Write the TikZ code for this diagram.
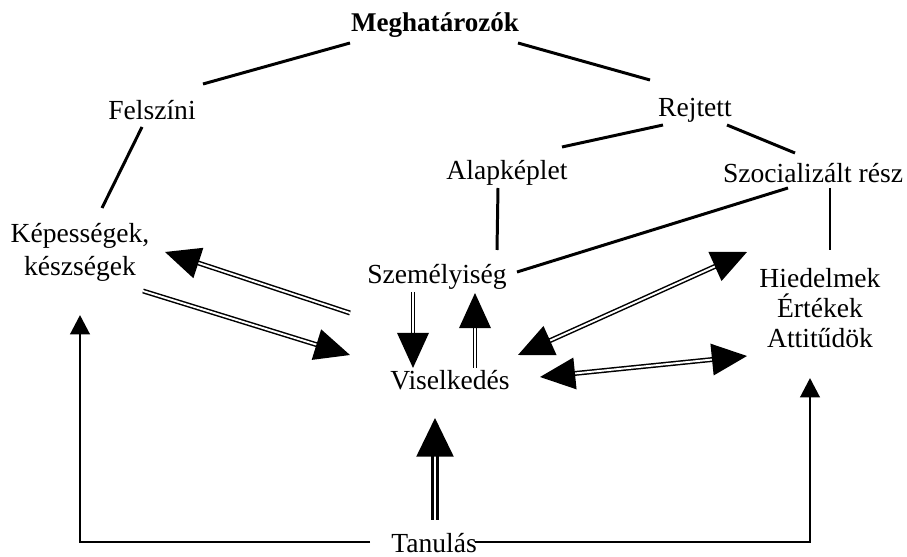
\documentclass[tikz,border=0pt]{standalone}
\usepackage{fontspec}
\setmainfont{Liberation Serif}
\usetikzlibrary{arrows.meta, positioning}

\begin{document}
\begin{tikzpicture}[x=0.02cm, y=-0.02cm,
                term/.style={inner sep=0pt, align=center, font=\fontsize{15.7}{17.3}\selectfont},
                tie/.style={line width=1.7pt},
                flow/.style={double, line width=0.85pt, double distance=1.1pt,
                             -{Triangle[length=20pt, width=18pt]}},
                twoway/.style={flow, {Triangle[length=20pt, width=18pt]}-{Triangle[length=20pt, width=18pt]}},
                feed/.style={double, line width=1.5pt, double distance=1.1pt,
                             -{Triangle[length=22pt, width=21pt]}},
                learn/.style={line width=1.7pt, -{Triangle[length=11pt, width=11pt]}}]

                \useasboundingbox (0,0) rectangle (907,557);

                % Determinants - top tree
                \node[term, font=\fontsize{15.4}{17}\selectfont\bfseries] (megh) at (435,25) {Meghatározók};
                \node[term] (felszini) at (152,110) {Felszíni};
                \node[term] (rejtett) at (695,110) {Rejtett};
                \node[term] (alap) at (507,173) {Alapképlet};
                \node[term] (szoc) at (813,173) {Szocializált rész};

                % Middle row
                \node[term] (kepes) at (80,252) {Képességek,\\[1.4pt]készségek};
                \node[term] (szemely) at (437,277) {Személyiség};
                \node[term] (hiedel) at (820,308) {Hiedelmek\\Értékek\\Attitűdök};
                \node[term] (visel) at (450,380) {Viselkedés};
                \node[term] (tanulas) at (434,543) {Tanulás};

                % Tree lines
                \draw[tie] ([shift={(-85,18)}]megh.center) -- ([shift={(51,-26)}]felszini.center);
                \draw[tie] ([shift={(83,18)}]megh.center) -- ([shift={(-45,-30)}]rejtett.center);
                \draw[tie] ([shift={(-10,17)}]felszini.center) -- ([shift={(22,-44)}]kepes.center);
                \draw[tie] ([shift={(-32,15)}]rejtett.center) -- ([shift={(55,-26)}]alap.center);
                \draw[tie] ([shift={(32,15)}]rejtett.center) -- ([shift={(-18,-20)}]szoc.center);
                \draw[tie] ([shift={(-9,15)}]alap.center) -- ([shift={(60,-27)}]szemely.center);
                \draw[tie] ([shift={(-25,15)}]szoc.center) -- ([shift={(80,-5)}]szemely.center);
                \draw[tie] ([shift={(17,15)}]szoc.center) -- ([shift={(10,-58)}]hiedel.center);

                % Double arrows round Viselkedés
                \draw[flow] ([shift={(-87,36)}]szemely.center) -- ([shift={(85,0)}]kepes.center);
                \draw[flow] ([shift={(63,39)}]kepes.center) -- ([shift={(-100,-25)}]visel.center);
                \draw[flow] ([shift={(-24,15)}]szemely.center) -- ([shift={(-37,-12)}]visel.center);
                \draw[flow] ([shift={(25,-12)}]visel.center) -- ([shift={(38,16)}]szemely.center);
                \draw[twoway] ([shift={(68,-25)}]visel.center) -- ([shift={(-73,-56)}]hiedel.center);
                \draw[twoway] ([shift={(90,-3)}]visel.center) -- ([shift={(-73,48)}]hiedel.center);

                % Learning arrows
                \draw[feed] ([shift={(1,-23)}]tanulas.center) -- ([shift={(-15,38)}]visel.center);
                \draw[learn] ([shift={(-64,-1)}]tanulas.center) -| ([shift={(0,63)}]kepes.center);
                \draw[learn] ([shift={(41,-1)}]tanulas.center) -| ([shift={(-10,70)}]hiedel.center);
            \end{tikzpicture}
\end{document}
